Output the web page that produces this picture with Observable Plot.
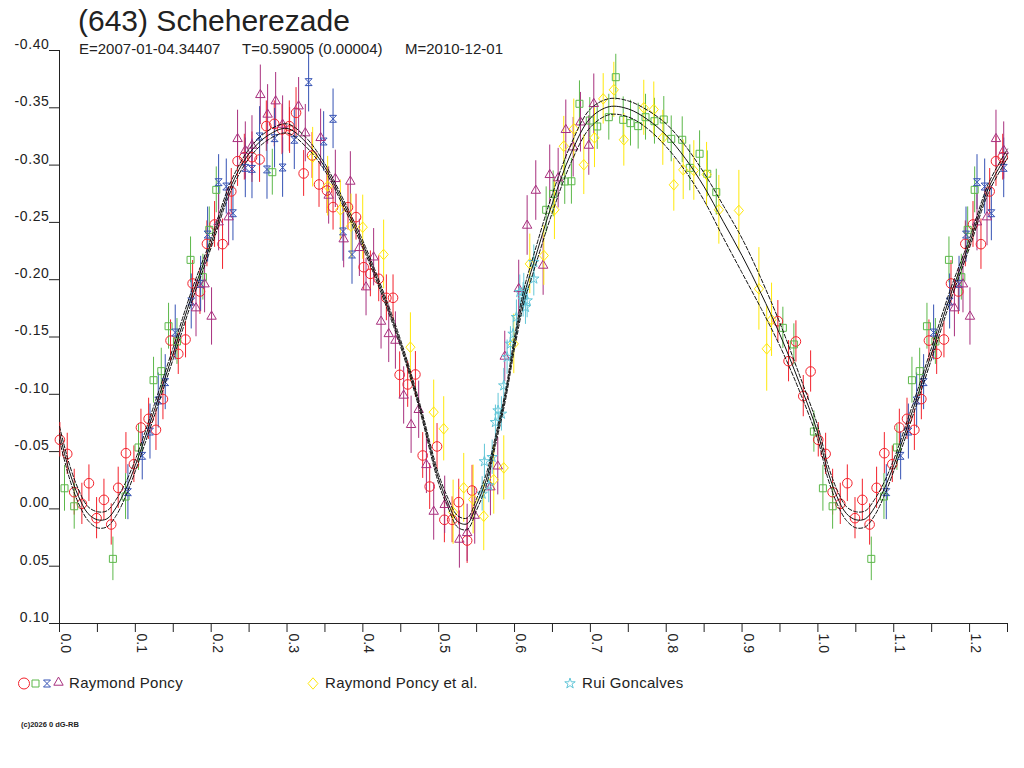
<!DOCTYPE html>
<html>
<head>
<meta charset="utf-8">
<script src="https://cdn.jsdelivr.net/npm/d3@7"></script>
<script src="https://cdn.jsdelivr.net/npm/@observablehq/plot@0.6"></script>
<style>
  body { margin: 0; background: #fff; font-family: "Liberation Sans", Arial, sans-serif; color: #222; }
  #wrap { position: relative; width: 1024px; height: 768px; overflow: hidden; }
  #chart { position: absolute; left: 0; top: 0; }
  .txt { position: absolute; line-height: 1; white-space: pre; color: #222; }
  #title { left: 78px; top: 6px; font-size: 30px; }
  .sub { top: 41px; font-size: 15px; }
  .legt { top: 675px; font-size: 15px; letter-spacing: 0.3px; }
  #copy { left: 21px; top: 721px; font-size: 7.5px; font-weight: bold; }
  #legsvg { position: absolute; left: 0; top: 670px; }
  #chart g[aria-label="y-axis tick label"] text { letter-spacing: 0.6px; }
</style>
</head>
<body>
<div id="wrap">
  <div id="chart"></div>
  <div id="title" class="txt">(643) Scheherezade</div>
  <div class="txt sub" style="left:79px">E=2007-01-04.34407</div>
  <div class="txt sub" style="left:242px">T=0.59005 (0.00004)</div>
  <div class="txt sub" style="left:405px">M=2010-12-01</div>
  <svg id="legsvg" width="1024" height="30"></svg>
  <div class="txt legt" style="left:69px">Raymond Poncy</div>
  <div class="txt legt" style="left:325px">Raymond Poncy et al.</div>
  <div class="txt legt" style="left:582px">Rui Goncalves</div>
  <div id="copy" class="txt">(c)2026 0 dG-RB</div>
</div>
<script>
// ---------------- DATA (phase, reduced magnitude, error) ----------------
const rpRed = [
  [0.0005,-0.0603,0.015],[0.0102,-0.0480,0.018],[0.0194,-0.0146,0.020],[0.0295,-0.0044,0.018],
  [0.0388,-0.0224,0.016],[0.0489,0.0081,0.018],[0.0586,-0.0079,0.018],[0.0682,0.0136,0.018],
  [0.0774,-0.0184,0.018],[0.0876,-0.0486,0.018],[0.0981,-0.0390,0.016],[0.1074,-0.0710,0.016],
  [0.1175,-0.0786,0.018],[0.1272,-0.0690,0.018],[0.1364,-0.0958,0.018],[0.1464,-0.1469,0.018],
  [0.1566,-0.1353,0.018],[0.1662,-0.1478,0.016],[0.1755,-0.1967,0.020],[0.1852,-0.1897,0.020],
  [0.1944,-0.2313,0.020],[0.2045,-0.2482,0.020],[0.2150,-0.2310,0.022],[0.2265,-0.2770,0.020],
  [0.2348,-0.3034,0.022],[0.2437,-0.3069,0.020],[0.2538,-0.3069,0.022],[0.2638,-0.3049,0.020],
  [0.2727,-0.3340,0.022],[0.2832,-0.3360,0.020],[0.2934,-0.3311,0.022],[0.3030,-0.3340,0.022],
  [0.3034,-0.3302,0.020],[0.3119,-0.3456,0.022],[0.3219,-0.2927,0.020],[0.3330,-0.3084,0.020],
  [0.3422,-0.2831,0.020],[0.3527,-0.2778,0.020],[0.3607,-0.2633,0.020],[0.3804,-0.2633,0.020],
  [0.3910,-0.2546,0.020],[0.4011,-0.2109,0.020],[0.4099,-0.2051,0.020],[0.4209,-0.2008,0.020],
  [0.4310,-0.1842,0.020],[0.4398,-0.1842,0.020],[0.4485,-0.1170,0.020],[0.4591,-0.1086,0.020],
  [0.4693,-0.1173,0.020],[0.4789,-0.0466,0.020],[0.4881,-0.0195,0.020],[0.4978,-0.0545,0.020],
  [0.5075,0.0095,0.020],[0.5177,0.0095,0.020],[0.5264,-0.0059,0.020],[0.5375,0.0276,0.020],
  [0.5440,-0.0160,0.022],[0.9472,-0.1638,0.018],[0.9613,-0.1289,0.018],[0.9710,-0.1461,0.018],
  [0.9807,-0.0984,0.018],[0.9904,-0.1199,0.018]
];
const rpGreen = [
  [0.0066,-0.0180,0.020],[0.0194,-0.0023,0.020],[0.0704,0.0436,0.019],[0.0871,-0.0108,0.020],
  [0.1042,-0.0536,0.020],[0.1240,-0.1123,0.020],[0.1342,-0.1202,0.020],[0.1438,-0.1594,0.020],
  [0.1549,-0.1461,0.020],[0.1728,-0.2173,0.020],[0.1891,-0.2022,0.020],[0.1975,-0.2435,0.020],
  [0.2067,-0.2784,0.020],[0.2806,-0.2938,0.020],[0.6417,-0.2610,0.020],[0.6509,-0.2749,0.020],
  [0.6662,-0.2857,0.020],[0.6750,-0.2859,0.020],[0.6856,-0.3535,0.020],[0.6992,-0.3389,0.020],
  [0.7090,-0.3337,0.020],[0.7243,-0.3418,0.020],[0.7335,-0.3767,0.020],[0.7433,-0.3395,0.020],
  [0.7529,-0.3366,0.020],[0.7630,-0.3340,0.020],[0.7727,-0.3418,0.020],[0.7845,-0.3383,0.020],
  [0.7968,-0.3398,0.020],[0.8066,-0.3229,0.020],[0.8211,-0.3221,0.020],[0.8311,-0.2976,0.020],
  [0.8440,-0.3099,0.020],[0.8541,-0.2924,0.020],[0.8660,-0.2764,0.020],[0.9538,-0.1580,0.018],
  [0.9683,-0.1435,0.018],[0.9947,-0.0675,0.018]
];
const rpBlue = [
  [0.0902,-0.0146,0.024],[0.1091,-0.0463,0.021],[0.1193,-0.0675,0.024],[0.1302,-0.0946,0.024],
  [0.1394,-0.1106,0.024],[0.1526,-0.1539,0.024],[0.1737,-0.1810,0.024],[0.1861,-0.1964,0.024],
  [0.1953,-0.2394,0.024],[0.2098,-0.2851,0.024],[0.2199,-0.2813,0.024],[0.2287,-0.2580,0.024],
  [0.2450,-0.2976,0.026],[0.2538,-0.2967,0.026],[0.2638,-0.3250,0.026],[0.2736,-0.2962,0.026],
  [0.2836,-0.3235,0.026],[0.2942,-0.2979,0.026],[0.3096,-0.3221,0.026],[0.3285,-0.3724,0.026],
  [0.3483,-0.3206,0.026],[0.3607,-0.3404,0.026],[0.3738,-0.2421,0.026],[0.3857,-0.2220,0.026]
];
const rpPurple = [
  [0.1800,-0.1752,0.025],[0.1913,-0.1961,0.025],[0.2005,-0.1679,0.025],[0.2098,-0.2502,0.025],
  [0.2230,-0.2546,0.025],[0.2348,-0.3229,0.025],[0.2450,-0.3127,0.025],[0.2538,-0.3171,0.026],
  [0.2648,-0.3613,0.026],[0.2744,-0.3442,0.026],[0.2850,-0.3558,0.025],[0.2942,-0.3354,0.025],
  [0.3153,-0.3514,0.025],[0.3241,-0.3279,0.025],[0.3443,-0.3238,0.025],[0.3549,-0.2735,0.025],
  [0.3637,-0.2880,0.025],[0.3747,-0.2354,0.025],[0.3835,-0.2857,0.026],[0.3954,-0.2278,0.025],
  [0.4042,-0.1935,0.025],[0.4142,-0.2196,0.025],[0.4240,-0.1635,0.024],[0.4341,-0.1527,0.025],
  [0.4429,-0.1469,0.025],[0.4538,-0.0990,0.025],[0.4636,-0.0734,0.025],[0.4736,-0.0865,0.025],
  [0.4838,-0.0384,0.025],[0.4934,0.0023,0.025],[0.5079,-0.0036,0.025],[0.5273,0.0267,0.025],
  [0.5375,0.0209,0.025],[0.5475,0.0058,0.025],[0.5682,-0.0190,0.025],[0.5779,-0.0372,0.025],
  [0.5871,-0.1330,0.022],[0.6055,-0.1920,0.025],[0.6166,-0.2473,0.026],[0.6280,-0.2778,0.026],
  [0.6377,-0.2124,0.026],[0.6464,-0.2915,0.026],[0.6575,-0.2886,0.026],[0.6676,-0.3308,0.026],
  [0.6773,-0.3156,0.026],[0.6869,-0.3374,0.026],[0.6979,-0.3171,0.026],[0.7045,-0.3535,0.026]
];
const rpeYellow = [
  [0.3338,-0.3069,0.026],[0.3536,-0.2816,0.026],[0.3703,-0.2610,0.026],[0.3844,-0.2467,0.028],
  [0.3998,-0.2458,0.028],[0.4274,-0.2220,0.030],[0.4627,-0.1411,0.030],[0.4934,-0.0844,0.028],
  [0.5066,-0.0699,0.028],[0.5190,0.0029,0.028],[0.5330,-0.0184,0.030],[0.5454,-0.0082,0.030],
  [0.5594,0.0064,0.030],[0.5726,-0.0254,0.030],[0.5858,-0.0358,0.028],[0.5990,-0.1440,0.026],
  [0.6201,-0.2138,0.026],[0.6386,-0.2211,0.026],[0.6526,-0.2610,0.026],[0.6649,-0.3165,0.026],
  [0.6781,-0.3316,0.026],[0.6913,-0.3003,0.026],[0.7054,-0.3238,0.026],[0.7169,-0.3578,0.022],
  [0.7309,-0.3657,0.024],[0.7441,-0.3221,0.023],[0.7704,-0.3500,0.024],[0.7836,-0.3485,0.024],
  [0.7955,-0.3238,0.024],[0.8100,-0.2828,0.023],[0.8224,-0.2959,0.026],[0.8364,-0.2953,0.026],
  [0.8532,-0.2918,0.028],[0.8694,-0.2610,0.030],[0.8958,-0.2604,0.035],[0.9222,-0.1920,0.036],
  [0.9325,-0.1397,0.037],[0.9389,-0.1650,0.032]
];
const rgCyan = [
  [0.5573,-0.0131,0.015],[0.5603,-0.0414,0.015],[0.5660,-0.0204,0.015],[0.5705,-0.0451,0.015],
  [0.5748,-0.0756,0.015],[0.5783,-0.0858,0.015],[0.5827,-0.0829,0.015],[0.5858,-0.1076,0.015],
  [0.5902,-0.1324,0.015],[0.5946,-0.1440,0.015],[0.5981,-0.1527,0.015],[0.6025,-0.1673,0.015],
  [0.6069,-0.1891,0.015],[0.6113,-0.1824,0.015],[0.6122,-0.1905,0.015],[0.6144,-0.1760,0.015],
  [0.6166,-0.1818,0.015],[0.6254,-0.2008,0.015],[0.6254,-0.2153,0.015]
];

// Fourier fit (phase, magnitude) and its envelope half-width
const fitPhase = [0,0.0125,0.025,0.0375,0.05,0.0625,0.075,0.0875,0.1,0.125,0.15,0.175,0.2,0.225,0.25,0.275,0.3,0.325,0.35,0.375,0.4,0.425,0.45,0.475,0.5,0.5125,0.525,0.5375,0.55,0.5625,0.575,0.5875,0.6,0.6125,0.625,0.65,0.675,0.7,0.725,0.75,0.775,0.8,0.825,0.85,0.875,0.9,0.925,0.95,0.975,1.0];
const fitMag = [-0.066,-0.034,-0.011,0.004,0.0095,0.0087,-0.0015,-0.0175,-0.038,-0.086,-0.136,-0.187,-0.232,-0.280,-0.310,-0.326,-0.332,-0.320,-0.298,-0.266,-0.231,-0.190,-0.144,-0.089,-0.026,-0.005,0.011,0.013,-0.004,-0.025,-0.060,-0.097,-0.145,-0.186,-0.214,-0.267,-0.311,-0.341,-0.351,-0.349,-0.340,-0.326,-0.306,-0.281,-0.251,-0.221,-0.188,-0.152,-0.111,-0.066];
const fitSpread = [0.006,0.006,0.006,0.006,0.007,0.007,0.007,0.006,0.005,0.005,0.005,0.005,0.004,0.004,0.004,0.004,0.004,0.004,0.003,0.003,0.003,0.003,0.003,0.003,0.004,0.004,0.005,0.005,0.005,0.005,0.004,0.004,0.005,0.006,0.007,0.008,0.008,0.008,0.007,0.007,0.008,0.010,0.011,0.012,0.014,0.015,0.013,0.010,0.007,0.006];

// axis ticks
const yTicks = [-0.40,-0.35,-0.30,-0.25,-0.20,-0.15,-0.10,-0.05,0.00,0.05,0.10];
const yTickLabels = ["-0.40","-0.35","-0.30","-0.25","-0.20","-0.15","-0.10","-0.05","0.00","0.05","0.10"];
const xTicks = [0,0.05,0.1,0.15,0.2,0.25,0.3,0.35,0.4,0.45,0.5,0.55,0.6,0.65,0.7,0.75,0.8,0.85,0.9,0.95,1.0,1.05,1.1,1.15,1.2,1.25];
const xTickLabels = ["0.0","","0.1","","0.2","","0.3","","0.4","","0.5","","0.6","","0.7","","0.8","","0.9","","1.0","","1.1","","1.2",""];

// ---------------- BUILD ----------------
const PHASE_REPEAT = 0.25; // phases below this are shown again after 1.0
function expand(arr) {
  const out = [];
  for (const [p, m, e] of arr) {
    out.push({x: p, y: m, e});
    if (p < PHASE_REPEAT) out.push({x: p + 1, y: m, e});
  }
  return out;
}
const fitRows = [];
fitPhase.forEach((p, i) => fitRows.push({x: p, y: fitMag[i], lo: fitMag[i] - fitSpread[i], hi: fitMag[i] + fitSpread[i]}));
fitPhase.forEach((p, i) => { if (p > 0 && p <= PHASE_REPEAT + 1e-9) fitRows.push({x: p + 1, y: fitMag[i], lo: fitMag[i] - fitSpread[i], hi: fitMag[i] + fitSpread[i]}); });

const hourglass = {draw(ctx, size) { const r = Math.sqrt(size) / 2; ctx.moveTo(-r, -r); ctx.lineTo(r, -r); ctx.lineTo(-r, r); ctx.lineTo(r, r); ctx.closePath(); }};
const diamond = {draw(ctx, size) { const w = Math.sqrt(size) * 0.7, h = w * 1.15; ctx.moveTo(0, -h); ctx.lineTo(w, 0); ctx.lineTo(0, h); ctx.lineTo(-w, 0); ctx.closePath(); }};

const series = [
  {rows: expand(rpRed), color: "#f3222c", symbol: "circle", r: 4.8},
  {rows: expand(rpGreen), color: "#5cb84a", symbol: "square", r: 3.95},
  {rows: expand(rpBlue), color: "#3552b4", symbol: hourglass, r: 3.9},
  {rows: expand(rpPurple), color: "#a8307e", symbol: "triangle", r: 3.5},
  {rows: expand(rpeYellow), color: "#ffe80a", symbol: diamond, r: 3.7},
  {rows: expand(rgCyan), color: "#62c6d8", symbol: "star", r: 3.3}
];

const marks = [];
for (const s of series) {
  marks.push(Plot.ruleX(s.rows, {x: "x", y1: d => d.y - d.e, y2: d => d.y + d.e, stroke: s.color, strokeWidth: 1}));
}
for (const s of series) {
  marks.push(Plot.dot(s.rows, {x: "x", y: "y", symbol: s.symbol, r: s.r, stroke: s.color, fill: "none", strokeWidth: 1}));
}
marks.push(Plot.line(fitRows, {x: "x", y: "hi", stroke: "#111", strokeWidth: 1, strokeDasharray: "4,2", curve: "catmull-rom"}));
marks.push(Plot.line(fitRows, {x: "x", y: "lo", stroke: "#111", strokeWidth: 1, strokeDasharray: "4,2", curve: "catmull-rom"}));
marks.push(Plot.line(fitRows, {x: "x", y: "y", stroke: "#111", strokeWidth: 1, curve: "catmull-rom"}));

const yLab = new Map(yTicks.map((t, i) => [t, yTickLabels[i]]));
const xLab = new Map(xTicks.map((t, i) => [t, xTickLabels[i]]));

const chart = Plot.plot({
  width: 1024,
  height: 660,
  marginTop: 50,
  marginBottom: 37,
  marginLeft: 59,
  marginRight: 17,
  style: {fontFamily: "'Liberation Sans', Arial, sans-serif", fontSize: "14px", color: "#222", background: "transparent", overflow: "visible"},
  x: {domain: [0, 1.25]},
  y: {domain: [-0.40, 0.10], reverse: true},
  marks: [
    Plot.axisY({ticks: yTicks, tickSize: 10, tickFormat: () => "", label: null, stroke: "#222"}),
    Plot.axisY({ticks: yTicks, tickSize: 0, tickPadding: 10, dy: -6, tickFormat: d => yLab.get(d), label: null, fill: "#222"}),
    Plot.axisX({ticks: xTicks, tickSize: 9, tickFormat: () => "", label: null, stroke: "#222"}),
    Plot.axisX({ticks: xTicks, tickSize: 0, tickPadding: 10, tickRotate: 90, dx: 6, tickFormat: d => xLab.get(d), label: null, fill: "#222"}),
    Plot.ruleX([0], {stroke: "#222"}),
    Plot.ruleY([0.10], {stroke: "#222"}),
    ...marks
  ]
});
document.getElementById("chart").appendChild(chart);

// legend glyphs
const leg = d3.select("#legsvg");
const legItems = [
  {x: 24, y: 13.5, sym: d3.symbolCircle, size: Math.PI * 5.5 * 5.5, color: "#f3222c"},
  {x: 35.5, y: 13.5, sym: d3.symbolSquare, size: 49, color: "#5cb84a"},
  {x: 47, y: 13.5, sym: hourglass, size: 49, color: "#3552b4"},
  {x: 58.5, y: 12.5, sym: d3.symbolTriangle, size: 38, color: "#a8307e"},
  {x: 313, y: 13.5, sym: diamond, size: 50, color: "#ffe80a"},
  {x: 570, y: 13.5, sym: d3.symbolStar, size: 34, color: "#62c6d8"}
];
for (const it of legItems) {
  leg.append("path").attr("d", d3.symbol(it.sym, it.size)()).attr("transform", `translate(${it.x},${it.y})`)
    .attr("fill", "none").attr("stroke", it.color).attr("stroke-width", 1);
}
</script>
</body>
</html>
